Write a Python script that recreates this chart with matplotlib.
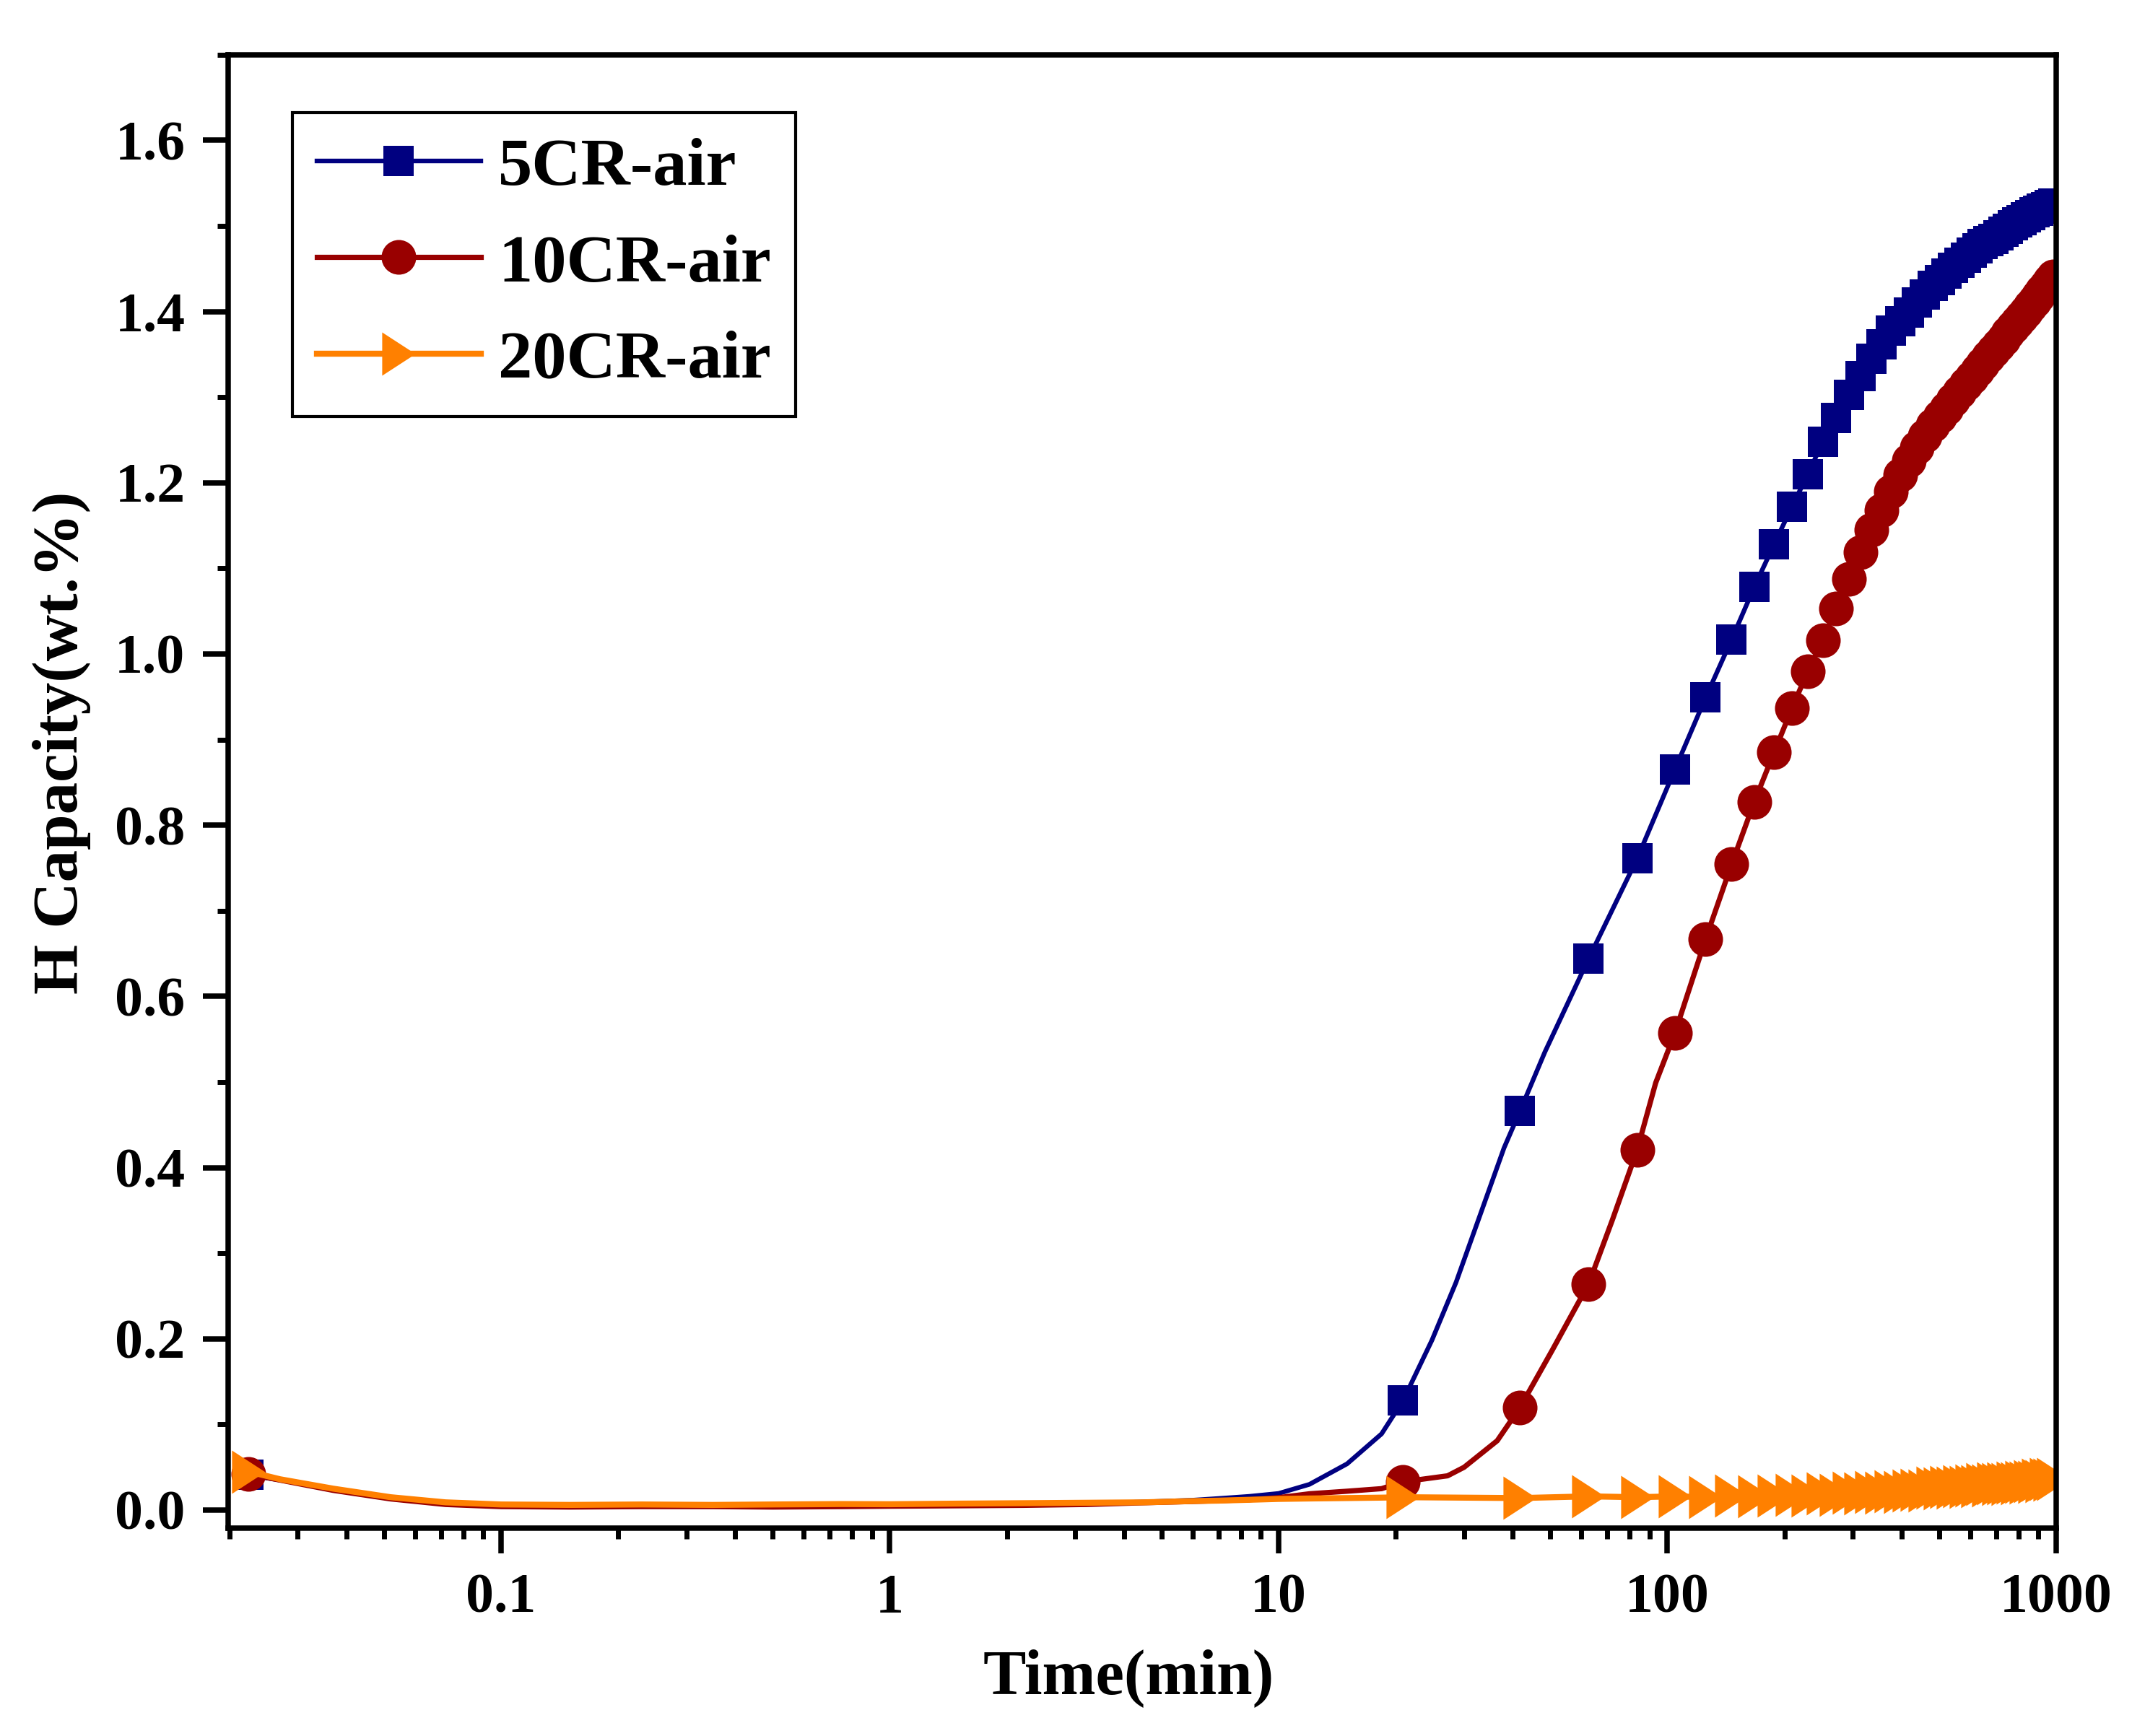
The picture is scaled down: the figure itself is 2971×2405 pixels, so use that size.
import numpy as np
import matplotlib
matplotlib.use("Agg")
import matplotlib.pyplot as plt
from matplotlib.ticker import MultipleLocator, LogLocator, FuncFormatter, NullFormatter

plt.rcParams['font.family'] = ['Liberation Serif', 'DejaVu Serif']
plt.rcParams['font.weight'] = 'bold'

series_names = ["5CR-air", "10CR-air", "20CR-air"]

# early part of the runs (first point also carries a marker)
t_early = [0.0224, 0.027, 0.037, 0.052, 0.072, 0.1, 0.15, 0.23, 0.35, 0.5, 0.75, 1.0,
           1.5, 2.2, 3.2, 4.5, 6.0, 7.0, 8.4, 10.0, 12.0, 15.0, 18.4]
y5_early = [0.041, 0.035, 0.024, 0.0143, 0.008, 0.0052, 0.0048, 0.005, 0.0052, 0.005, 0.0055, 0.0058,
            0.006, 0.0065, 0.0075, 0.0095, 0.0115, 0.0135, 0.016, 0.0194, 0.030, 0.054, 0.089]
y10_early = [0.042, 0.035, 0.023, 0.013, 0.0065, 0.004, 0.0035, 0.004, 0.004, 0.0035, 0.004, 0.0045,
             0.005, 0.0055, 0.0065, 0.0085, 0.010, 0.011, 0.012, 0.0145, 0.019, 0.022, 0.025]
y20_early = [0.045, 0.036, 0.025, 0.015, 0.009, 0.0065, 0.006, 0.0065, 0.006, 0.0065, 0.007, 0.0068,
             0.0075, 0.008, 0.0085, 0.009, 0.0105, 0.011, 0.012, 0.013, 0.0135, 0.014, 0.0145]

# extra line points between the first markers
t5_extra = [24.8, 28.6, 33.0, 38.0, 48.4]
y5_extra = [0.1985, 0.266, 0.345, 0.423, 0.535]
t10_extra = [27.2, 30.0, 36.5, 50.6, 72.2, 93.3]
y10_extra = [0.040, 0.050, 0.081, 0.187, 0.339, 0.499]

# marker positions (every ~20.9 min)
t_mark = [20.9, 41.8, 62.7, 83.6, 104.5, 125.4, 146.3, 167.2, 188.1, 209.0, 229.9, 250.8,
          271.7, 292.6, 313.5, 334.4, 355.3, 376.2, 397.1, 418.0, 438.9, 459.8, 480.7, 501.6,
          522.5, 543.4, 564.3, 585.2, 606.1, 627.0, 647.9, 668.8, 689.7, 710.6, 731.5, 752.4,
          773.3, 794.2, 815.1, 836.0, 856.9, 877.8, 898.7, 919.6, 940.5, 961.4, 982.3]
y5_mark = [0.128, 0.4665, 0.644, 0.761, 0.865, 0.949, 1.017, 1.078, 1.128, 1.172, 1.210, 1.2476,
           1.276, 1.3026, 1.325, 1.345, 1.3616, 1.378, 1.389, 1.399, 1.411, 1.420, 1.430, 1.437,
           1.444, 1.451, 1.457, 1.463, 1.469, 1.474, 1.479, 1.482, 1.485, 1.489, 1.493, 1.497,
           1.501, 1.504, 1.507, 1.510, 1.513, 1.516, 1.518, 1.520, 1.522, 1.524, 1.526]
y10_mark = [0.033, 0.12, 0.264, 0.4206, 0.557, 0.667, 0.7545, 0.827, 0.885, 0.9365, 0.980, 1.016,
            1.0535, 1.088, 1.119, 1.145, 1.168, 1.190, 1.209, 1.226, 1.241, 1.255, 1.267, 1.277,
            1.287, 1.297, 1.306, 1.315, 1.323, 1.331, 1.339, 1.347, 1.354, 1.361, 1.368, 1.375,
            1.382, 1.388, 1.394, 1.400, 1.406, 1.412, 1.418, 1.424, 1.430, 1.436, 1.441]
y20_mark = [0.015, 0.014, 0.016, 0.015, 0.016, 0.015, 0.017, 0.016, 0.017, 0.018, 0.017, 0.019,
            0.018, 0.020, 0.019, 0.021, 0.020, 0.022, 0.021, 0.023, 0.024, 0.023, 0.026, 0.025,
            0.027, 0.026, 0.028, 0.027, 0.029, 0.028, 0.030, 0.029, 0.031, 0.030, 0.031, 0.030,
            0.032, 0.031, 0.033, 0.032, 0.034, 0.033, 0.035, 0.034, 0.036, 0.035, 0.036]

colors = ['#000080', '#990000', '#FF8000']
tri = [(-0.77, -1.0), (-0.77, 1.0), (0.77, 0.0), (-0.77, -1.0)]
markers = ['s', 'o', tri]
msizes = [15.1, 17.3, 21.6]
lwidths = [2.3, 2.6, 3.0]


def build(y_early, t_extra, y_extra, y_mark):
    t = np.array(t_early + t_extra + t_mark)
    y = np.array(y_early + y_extra + y_mark)
    is_mark = np.array([True] + [False] * (len(t_early) - 1) + [False] * len(t_extra) + [True] * len(t_mark))
    order = np.argsort(t)
    t, y, is_mark = t[order], y[order], is_mark[order]
    return t, y, list(np.where(is_mark)[0])


data = [build(y5_early, t5_extra, y5_extra, y5_mark),
        build(y10_early, t10_extra, y10_extra, y10_mark),
        build(y20_early, [], [], y20_mark)]

fig = plt.figure(figsize=(14.855, 12.025), dpi=200)
ax = fig.add_axes([0.1065, 0.1198, 0.8521, 0.8487])

for (t, y, idx), name, c, m, ms, lw in zip(data, series_names, colors, markers, msizes, lwidths):
    ax.plot(t, y, color=c, lw=lw, marker=m, ms=ms, mew=0, mfc=c,
            markevery=idx, label=name)

ax.set_xscale('log')
ax.set_xlim(0.0199, 1000)
ax.set_ylim(-0.021, 1.70)

ax.xaxis.set_major_locator(LogLocator(base=10))
ax.xaxis.set_minor_locator(LogLocator(base=10, subs=np.arange(2, 10)))
ax.xaxis.set_major_formatter(FuncFormatter(lambda v, p: '%g' % v))
ax.xaxis.set_minor_formatter(NullFormatter())
ax.yaxis.set_major_locator(MultipleLocator(0.2))
ax.yaxis.set_minor_locator(MultipleLocator(0.1))
ax.yaxis.set_major_formatter(FuncFormatter(lambda v, p: '%.1f' % v))

for sp in ax.spines.values():
    sp.set_linewidth(2.7)
ax.tick_params(which='both', direction='out', top=False, right=False)
ax.tick_params(which='major', length=12.6, width=2.7, labelsize=28)
ax.tick_params(which='minor', length=5.5, width=2.5)
ax.tick_params(axis='x', which='major', pad=10)
ax.tick_params(axis='y', which='major', pad=9)

ax.set_xlabel('Time(min)', fontsize=32, fontweight='bold', labelpad=12)
ax.set_ylabel('H Capacity(wt.%)', fontsize=32, fontweight='bold', labelpad=12)
ax.xaxis.label.set_x(0.4925)
ax.yaxis.label.set_y(0.533)

leg = ax.legend(loc='upper left', bbox_to_anchor=(0.035, 0.9607), borderaxespad=0,
                fontsize=34, numpoints=1, handlelength=2.4, handletextpad=0.26,
                labelspacing=0.50, borderpad=0.36, fancybox=False, framealpha=1,
                edgecolor='black')
leg.get_frame().set_linewidth(1.5)

fig.savefig('out.png', dpi=200, facecolor='white')
